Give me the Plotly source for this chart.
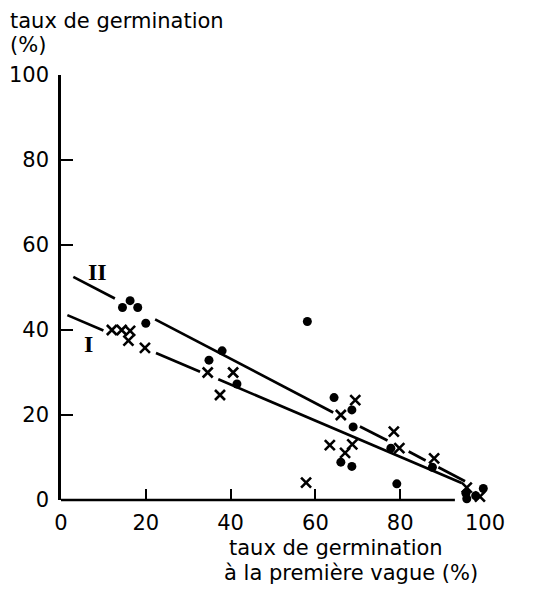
import plotly.graph_objects as go

# Series II (filled circles)
dots_x = [14.5, 16.3, 18.1, 20.0, 34.9, 38.0, 41.5, 58.1, 64.4, 68.6, 68.9, 66.0, 68.6, 77.8, 79.2, 87.6, 95.5, 95.7, 99.6, 97.8]
dots_y = [45.3, 46.9, 45.3, 41.6, 32.9, 35.1, 27.3, 42.0, 24.1, 21.2, 17.2, 8.9, 7.9, 12.2, 3.8, 7.7, 1.6, 0.3, 2.7, 1.0]

# Series I (crosses)
cross_x = [12.0, 14.3, 16.3, 15.9, 19.8, 34.6, 40.6, 37.5, 57.8, 63.4, 66.0, 67.0, 68.7, 69.4, 78.5, 79.8, 88.0, 95.7, 98.8]
cross_y = [40.0, 40.0, 39.8, 37.5, 35.8, 30.0, 30.0, 24.7, 4.1, 12.9, 20.0, 11.1, 13.1, 23.5, 16.1, 12.2, 9.8, 2.9, 0.8]

# Regression lines (with the drawn gaps)
line2_x = [2.9, 12.7, None, 22.2, 64.2, None, 70.5, 77.0, None, 82.0, 86.0, None, 89.0, 95.3]
line2_y = [52.5, 47.4, None, 42.5, 20.6, None, 17.3, 14.0, None, 11.4, 9.3, None, 7.7, 4.4]
line1_x = [1.5, 10.0, None, 22.4, 32.8, None, 37.1, 94.5]
line1_y = [43.5, 39.9, None, 34.6, 30.2, None, 28.4, 4.0]

tick_vals = [0, 20, 40, 60, 80, 100]
tick_text = ["0", "20", "40", "60", "80", "100"]

FONT = "DejaVu Sans"

fig = go.Figure()
fig.add_trace(go.Scatter(x=line2_x, y=line2_y, mode="lines",
                         line=dict(color="black", width=2.7), cliponaxis=False, hoverinfo="skip"))
fig.add_trace(go.Scatter(x=line1_x, y=line1_y, mode="lines",
                         line=dict(color="black", width=2.7), cliponaxis=False, hoverinfo="skip"))
fig.add_trace(go.Scatter(x=dots_x, y=dots_y, mode="markers", cliponaxis=False,
                         marker=dict(symbol="circle", size=9, color="black")))
fig.add_trace(go.Scatter(x=cross_x, y=cross_y, mode="markers", cliponaxis=False,
                         marker=dict(symbol="x-thin-open", size=10, color="black",
                                     line=dict(color="black", width=2.6))))

fig.update_layout(
    width=531, height=579,
    margin=dict(l=53, r=54, t=67, b=87, autoexpand=False),
    paper_bgcolor="white", plot_bgcolor="white",
    showlegend=False,
    font=dict(family=FONT, color="black", size=21),
    xaxis=dict(range=[0, 100], tickvals=tick_vals, ticktext=tick_text,
               ticks="inside", ticklen=11, tickwidth=2, tickcolor="black",
               showline=False, showgrid=False, zeroline=False, automargin=False,
               ticklabelstandoff=8, tickfont=dict(family=FONT, size=21)),
    yaxis=dict(range=[0, 100], tickvals=tick_vals, ticktext=tick_text,
               ticks="inside", ticklen=12, tickwidth=2, tickcolor="black",
               showline=True, linecolor="black", linewidth=2.5,
               showgrid=False, zeroline=False, automargin=False,
               ticklabelstandoff=5, tickfont=dict(family=FONT, size=21)),
    shapes=[dict(type="line", xref="paper", yref="paper", x0=0, x1=0.929, y0=0, y1=0,
                 line=dict(color="black", width=2.5))],
    annotations=[
        dict(text="taux de germination", xref="paper", yref="paper", x=-0.124, y=1.128,
             xanchor="left", yanchor="middle", showarrow=False, font=dict(size=21)),
        dict(text="(%)", xref="paper", yref="paper", x=-0.124, y=1.07,
             xanchor="left", yanchor="middle", showarrow=False, font=dict(size=21)),
        dict(text="taux de germination", xref="paper", yref="paper", x=0.392, y=-0.114,
             xanchor="left", yanchor="middle", showarrow=False, font=dict(size=21)),
        dict(text="à la première vague (%)", xref="paper", yref="paper", x=0.38, y=-0.172,
             xanchor="left", yanchor="middle", showarrow=False, font=dict(size=21)),
        dict(text="<b>II</b>", x=8.5, y=53.6, xref="x", yref="y", showarrow=False,
             font=dict(family="Liberation Serif", size=24)),
        dict(text="<b>I</b>", x=6.4, y=36.8, xref="x", yref="y", showarrow=False,
             font=dict(family="Liberation Serif", size=24)),
    ],
)

fig.write_html("out.html")
